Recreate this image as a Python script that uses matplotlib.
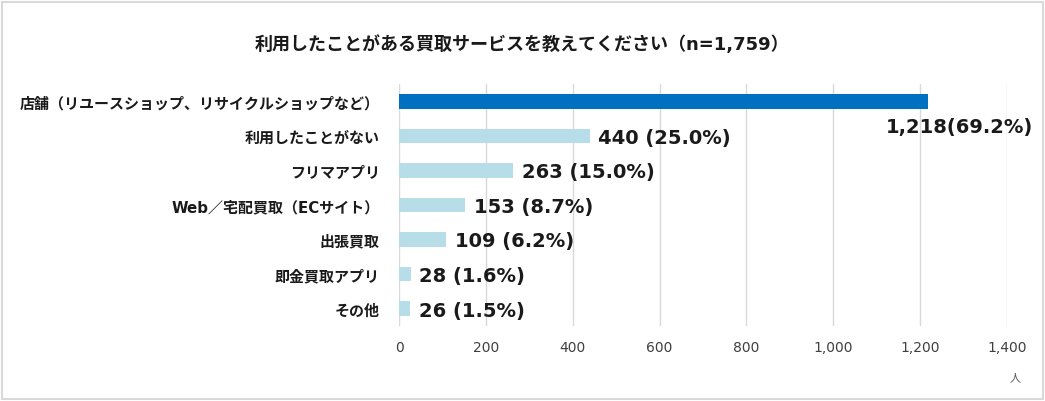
import matplotlib
matplotlib.use("Agg")
import matplotlib.pyplot as plt
from matplotlib.patches import Rectangle

plt.rcParams['font.family'] = ['DejaVu Sans', 'Noto Sans CJK JP']

categories = ["店舗（リユースショップ、リサイクルショップなど）", "利用したことがない", "フリマアプリ",
              "Web／宅配買取（ECサイト）", "出張買取", "即金買取アプリ", "その他"]
values = [1218, 440, 263, 153, 109, 28, 26]
value_labels = ["1,218(69.2%)", "440 (25.0%)", "263 (15.0%)", "153 (8.7%)",
                "109 (6.2%)", "28 (1.6%)", "26 (1.5%)"]
xticks = [0, 200, 400, 600, 800, 1000, 1200, 1400]
xtick_labels = ["0", "200", "400", "600", "800", "1,000", "1,200", "1,400"]
title = "利用したことがある買取サービスを教えてください（n=1,759）"
unit = "人"

W, H = 1045, 402
fig = plt.figure(figsize=(W / 100, H / 100), dpi=100)
fig.patch.set_facecolor("white")
fig.patches.append(Rectangle((2 / W, 2 / H), 1 - 4 / W, 1 - 5 / H, transform=fig.transFigure,
                             fill=False, edgecolor="#D9D9D9", linewidth=1.5))

ax = fig.add_axes([399 / W, 1 - 327 / H, 608 / W, 242 / H])
colors = ["#0070C0"] + ["#B7DDE8"] * (len(values) - 1)
ypos = list(range(len(categories)))
ax.barh(ypos, values, height=0.42, color=colors, zorder=3)
ax.set_xlim(0, 1400)
ax.set_ylim(len(categories) - 0.5, -0.5)
ax.set_xticks(xticks)
ax.set_xticklabels(xtick_labels, fontsize=10, color="#404040")
ax.set_yticks(ypos)
ax.set_yticklabels(categories, fontsize=10.8, fontweight="bold", color="#1a1a1a")
ax.tick_params(axis="both", length=0)
ax.tick_params(axis="x", pad=10)
ax.tick_params(axis="y", pad=14)
ax.grid(axis="x", color="#D9D9D9", linewidth=1, zorder=0)
for s in ax.spines.values():
    s.set_visible(False)

for i, (v, lab) in enumerate(zip(values, value_labels)):
    if i == 0:
        ax.annotate(lab, xy=(v, i), xytext=(-30, -18), textcoords="offset points",
                    ha="left", va="center", fontsize=14, fontweight="bold", color="#1a1a1a")
    else:
        ax.annotate(lab, xy=(v, i), xytext=(6, -1), textcoords="offset points",
                    ha="left", va="center", fontsize=14, fontweight="bold", color="#1a1a1a")

fig.text(255 / W, 1 - 45 / H, title, fontsize=13, fontweight="bold", ha="left", va="center",
         color="#1a1a1a")
fig.text(1015 / W, 1 - 378 / H, unit, fontsize=8, ha="center", va="center", color="#595959")

fig.savefig("out.png", dpi=100)
